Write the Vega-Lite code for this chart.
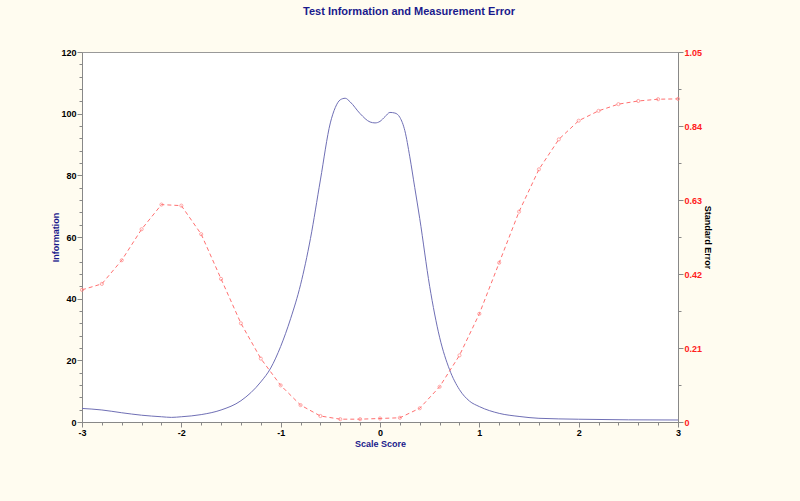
{
  "$schema": "https://vega.github.io/schema/vega-lite/v6.json",
  "width": 596,
  "height": 370,
  "autosize": {"type": "none"},
  "padding": {"left": 82, "top": 52, "right": 122, "bottom": 79},
  "background": "#FFFCF0",
  "config": {
    "view": {"stroke": "#999999", "fill": "white", "strokeWidth": 1},
    "font": "Liberation Sans",
    "axis": {
      "domainColor": "#888888",
      "tickColor": "#888888",
      "grid": false,
      "labelFont": "Liberation Sans",
      "labelFontWeight": "bold",
      "labelFontSize": 9,
      "labelOverlap": false,
      "titleFont": "Liberation Sans",
      "titleFontWeight": "bold",
      "titleFontSize": 9
    }
  },
  "title": {
    "text": "Test Information and Measurement Error",
    "font": "Liberation Sans",
    "fontSize": 11,
    "fontWeight": "bold",
    "color": "#1A1A8C",
    "anchor": "middle",
    "dx": 29,
    "offset": 20,
    "baseline": "bottom"
  },
  "datasets": {
    "info": [
      {"score": -3.0, "information": 4.4},
      {"score": -2.8, "information": 3.9},
      {"score": -2.6, "information": 3.0},
      {"score": -2.4, "information": 2.2},
      {"score": -2.2, "information": 1.7},
      {"score": -2.1, "information": 1.5},
      {"score": -2.0, "information": 1.7},
      {"score": -1.8, "information": 2.4},
      {"score": -1.6, "information": 3.9},
      {"score": -1.4, "information": 6.9},
      {"score": -1.2, "information": 13.0},
      {"score": -1.1, "information": 17.5},
      {"score": -1.0, "information": 24.5},
      {"score": -0.9, "information": 33.5},
      {"score": -0.8, "information": 44.5},
      {"score": -0.7, "information": 59.5},
      {"score": -0.6, "information": 78.5},
      {"score": -0.5, "information": 97.0},
      {"score": -0.45, "information": 102.0},
      {"score": -0.4, "information": 104.5},
      {"score": -0.35, "information": 105.0},
      {"score": -0.3, "information": 103.8},
      {"score": -0.2, "information": 100.0},
      {"score": -0.1, "information": 97.3},
      {"score": -0.05, "information": 97.0},
      {"score": 0.0, "information": 97.5},
      {"score": 0.05, "information": 99.0},
      {"score": 0.1, "information": 100.4},
      {"score": 0.15, "information": 100.2},
      {"score": 0.2, "information": 98.8},
      {"score": 0.25, "information": 94.5},
      {"score": 0.3, "information": 86.0},
      {"score": 0.35, "information": 76.0},
      {"score": 0.4, "information": 66.0},
      {"score": 0.5, "information": 44.0},
      {"score": 0.6, "information": 27.5},
      {"score": 0.7, "information": 17.0},
      {"score": 0.8, "information": 10.5},
      {"score": 0.9, "information": 6.8},
      {"score": 1.0, "information": 5.0},
      {"score": 1.2, "information": 2.8},
      {"score": 1.4, "information": 1.8},
      {"score": 1.6, "information": 1.2},
      {"score": 2.0, "information": 0.9},
      {"score": 2.5, "information": 0.7},
      {"score": 3.0, "information": 0.65}
    ],
    "se": [
      {"score": -3.0, "error": 0.375},
      {"score": -2.8, "error": 0.392},
      {"score": -2.6, "error": 0.459},
      {"score": -2.4, "error": 0.547},
      {"score": -2.2, "error": 0.617},
      {"score": -2.0, "error": 0.614},
      {"score": -1.8, "error": 0.533},
      {"score": -1.6, "error": 0.406},
      {"score": -1.4, "error": 0.280},
      {"score": -1.2, "error": 0.180},
      {"score": -1.0, "error": 0.104},
      {"score": -0.8, "error": 0.048},
      {"score": -0.6, "error": 0.017},
      {"score": -0.4, "error": 0.008},
      {"score": -0.2, "error": 0.008},
      {"score": 0.0, "error": 0.010},
      {"score": 0.2, "error": 0.012},
      {"score": 0.4, "error": 0.039},
      {"score": 0.6, "error": 0.100},
      {"score": 0.8, "error": 0.189},
      {"score": 1.0, "error": 0.307},
      {"score": 1.2, "error": 0.452},
      {"score": 1.4, "error": 0.597},
      {"score": 1.6, "error": 0.717},
      {"score": 1.8, "error": 0.802},
      {"score": 2.0, "error": 0.855},
      {"score": 2.2, "error": 0.883},
      {"score": 2.4, "error": 0.902},
      {"score": 2.6, "error": 0.911},
      {"score": 2.8, "error": 0.916},
      {"score": 3.0, "error": 0.917}
    ]
  },
  "encoding": {
    "x": {
      "field": "score",
      "type": "quantitative",
      "scale": {"domain": [-3, 3], "nice": false, "zero": false},
      "axis": {
        "title": "Scale Score",
        "titleColor": "#1A1A8C",
        "titlePadding": 2,
        "values": [-3, -2.8, -2.6, -2.4, -2.2, -2, -1.8, -1.6, -1.4, -1.2, -1, -0.8, -0.6, -0.4, -0.2, 0, 0.2, 0.4, 0.6, 0.8, 1, 1.2, 1.4, 1.6, 1.8, 2, 2.2, 2.4, 2.6, 2.8, 3],
        "labelExpr": "abs(datum.value - round(datum.value)) < 0.001 ? '' + round(datum.value) : ''",
        "tickSize": {"condition": {"test": "abs(datum.value - round(datum.value)) < 0.001", "value": 5}, "value": 3},
        "labelColor": "black",
        "labelPadding": 1,
        "labelOverlap": false,
        "labelBound": false,
        "labelFlush": false
      }
    }
  },
  "layer": [
    {
      "data": {"name": "info"},
      "mark": {"type": "line", "color": "#6F6FB5", "strokeWidth": 1, "interpolate": "monotone", "clip": true},
      "encoding": {
        "y": {
          "field": "information",
          "type": "quantitative",
          "scale": {"domain": [0, 120], "nice": false},
          "axis": {
            "orient": "left",
            "title": "Information",
            "titleColor": "#1A1A8C",
            "titlePadding": 0,
            "values": [0, 4, 8, 12, 16, 20, 24, 28, 32, 36, 40, 44, 48, 52, 56, 60, 64, 68, 72, 76, 80, 84, 88, 92, 96, 100, 104, 108, 112, 116, 120],
            "labelExpr": "datum.value % 20 == 0 ? '' + datum.value : ''",
            "tickSize": {"condition": {"test": "datum.value % 20 == 0", "value": 5}, "value": 3},
            "labelColor": "black",
            "labelPadding": 1
          }
        }
      }
    },
    {
      "data": {"name": "se"},
      "encoding": {
        "y": {
          "field": "error",
          "type": "quantitative",
          "scale": {"domain": [0, 1.05], "nice": false},
          "axis": {
            "orient": "right",
            "title": "Standard Error",
            "titleColor": "black",
            "titlePadding": 1,
            "values": [0, 0.105, 0.21, 0.315, 0.42, 0.525, 0.63, 0.735, 0.84, 0.945, 1.05],
            "labelExpr": "abs(datum.value / 0.21 - round(datum.value / 0.21)) < 0.001 ? '' + datum.value : ''",
            "tickSize": {"condition": {"test": "abs(datum.value / 0.21 - round(datum.value / 0.21)) < 0.001", "value": 5}, "value": 3},
            "labelColor": "#FF2020",
            "labelPadding": 1
          }
        }
      },
      "layer": [
        {"mark": {"type": "line", "color": "#FF7070", "strokeWidth": 1, "strokeDash": [4, 3]}},
        {"mark": {"type": "point", "color": "#FF8080", "filled": false, "size": 10, "strokeWidth": 1}}
      ]
    }
  ],
  "resolve": {"scale": {"y": "independent"}}
}
